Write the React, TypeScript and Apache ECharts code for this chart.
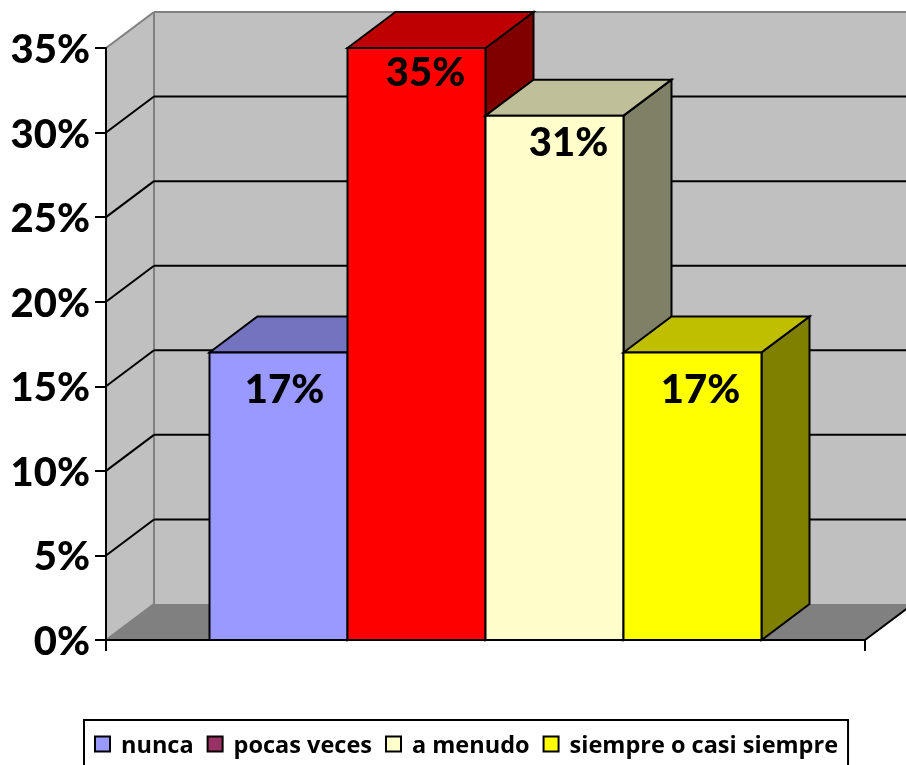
import React, { useEffect, useRef } from "react";
import * as echarts from "echarts";

const categories = ["nunca", "pocas veces", "a menudo", "siempre o casi siempre"];
const values = [17, 35, 31, 17];
const yTicks = [0, 5, 10, 15, 20, 25, 30, 35];
const legendColors = ["#9999FF", "#993366", "#FFFFCC", "#FFFF00"];
const frontColors = ["#9999FF", "#FF0000", "#FFFFCC", "#FFFF00"];
const topColors = ["#7373BF", "#BF0000", "#BFBF99", "#BFBF00"];
const sideColors = ["#4D4D80", "#800000", "#808066", "#808000"];
const labelDx = [6, 9, 14, 8];
const labelDy = [36, 23, 25, 36];

const DX = 48;
const DY = -36;
const BAR_FRACTION = 1 / 5.5;
const GAP_FRACTION = 0.75 / 5.5;
const COMIC = "'Lato','Noto Sans',sans-serif";

function face(points: number[][], fill: string, stroke: string | null = "#000", lineWidth = 2) {
  return {
    type: "polygon",
    shape: { points },
    style: { fill, stroke: stroke ?? "none", lineWidth: stroke ? lineWidth : 0, lineJoin: "miter" },
  };
}

function seg(x1: number, y1: number, x2: number, y2: number, stroke: string) {
  return { type: "line", shape: { x1, y1, x2, y2 }, style: { stroke, lineWidth: 2 } };
}

export default function App() {
  const ref = useRef<HTMLDivElement>(null);
  useEffect(() => {
    document.body.style.margin = "0";
    document.body.style.overflow = "hidden";
    const chart = echarts.init(ref.current!, null, { renderer: "svg" });

    const wallItem = (_p: any, api: any) => {
      const tick = api.value(1);
      const [x0, y] = api.coord([0, tick]);
      const w = api.size([1, 0])[0];
      const xl = x0 - w / 2;
      const xr = x0 + w / 2;
      const children: any[] = [];
      if (tick === yTicks[0]) {
        const [, yb] = api.coord([0, yTicks[0]]);
        const [, yt] = api.coord([0, yTicks[yTicks.length - 1]]);
        children.push(
          face([[xl + DX, yt + DY], [xr + DX, yt + DY], [xr + DX, yb + DY], [xl + DX, yb + DY]], "#C0C0C0", null),
          face([[xl, yt], [xl + DX, yt + DY], [xl + DX, yb + DY], [xl, yb]], "#C0C0C0", null),
          face([[xl, yb], [xl + DX, yb + DY], [xr + DX, yb + DY], [xr, yb]], "#808080", null),
          seg(xl, yt, xl + DX, yt + DY, "#808080"),
          seg(xl + DX, yt + DY, xr + DX, yt + DY, "#808080"),
          seg(xl + DX, yt + DY, xl + DX, yb + DY, "#808080"),
          seg(xl, yb, xl + DX, yb + DY, "#808080"),
          seg(xr, yb, xr + DX, yb + DY, "#000")
        );
      } else if (tick !== yTicks[yTicks.length - 1]) {
        children.push(seg(xl, y, xl + DX, y + DY, "#000"), seg(xl + DX, y + DY, xr + DX, y + DY, "#000"));
      }
      return { type: "group", children };
    };

    const barItem = (idx: number) => (_p: any, api: any) => {
      const v = api.value(1);
      const [cx, yTop] = api.coord([0, v]);
      const [, yBase] = api.coord([0, 0]);
      const band = api.size([1, 0])[0];
      const bw = band * BAR_FRACTION;
      const x1 = cx - band / 2 + band * GAP_FRACTION + idx * bw;
      const x2 = x1 + bw;
      return {
        type: "group",
        children: [
          face([[x2, yTop], [x2 + DX, yTop + DY], [x2 + DX, yBase + DY], [x2, yBase]], sideColors[idx]),
          face([[x1, yTop], [x1 + DX, yTop + DY], [x2 + DX, yTop + DY], [x2, yTop]], topColors[idx]),
          face([[x1, yTop], [x2, yTop], [x2, yBase], [x1, yBase]], frontColors[idx]),
          {
            type: "text",
            x: (x1 + x2) / 2 + labelDx[idx],
            y: yTop + labelDy[idx],
            style: {
              text: `${v}%`,
              fill: "#000",
              font: `900 40px ${COMIC}`,
              align: "center",
              verticalAlign: "middle",
            },
          },
        ],
      };
    };

    chart.setOption({
      animation: false,
      grid: { left: 106, right: 41, top: 48, bottom: 125 },
      xAxis: {
        type: "category",
        data: [""],
        z: 10,
        axisLine: { lineStyle: { color: "#000", width: 2 } },
        axisTick: { show: true, length: 11, lineStyle: { color: "#000", width: 2 } },
        axisLabel: { show: false },
        splitLine: { show: false },
      },
      yAxis: {
        type: "value",
        min: 0,
        max: 35,
        interval: 5,
        z: 10,
        axisLine: { show: true, lineStyle: { color: "#000", width: 2 } },
        axisTick: { show: true, length: 11, lineStyle: { color: "#000", width: 2 } },
        axisLabel: {
          formatter: "{value}%",
          color: "#000",
          fontFamily: COMIC,
          fontWeight: 900,
          fontSize: 40,
          margin: 16,
          padding: [0, 0, 5, 0],
        },
        splitLine: { show: false },
      },
      legend: {
        left: 84,
        top: 720,
        orient: "horizontal",
        data: categories,
        icon: "rect",
        itemWidth: 15,
        itemHeight: 15,
        itemGap: 13,
        padding: [12, 10, 12, 10],
        borderColor: "#000",
        borderWidth: 2,
        backgroundColor: "#fff",
        selectedMode: false,
        textStyle: {
          color: "#000",
          fontFamily: "'Open Sans','Noto Sans',sans-serif",
          fontWeight: 700,
          fontSize: 23.5,
          padding: [0, 0, 0, 6],
        },
      },
      series: [
        {
          type: "custom",
          name: "walls",
          z: 1,
          silent: true,
          clip: false,
          renderItem: wallItem,
          data: yTicks.map((t) => [0, t]),
        },
        ...categories.map((name, i) => ({
          type: "custom",
          name,
          z: 20 + i,
          clip: false,
          itemStyle: { color: legendColors[i], borderColor: "#000", borderWidth: 2 },
          renderItem: barItem(i),
          data: [[0, values[i]]],
        })),
      ],
    });
    return () => chart.dispose();
  }, []);
  return <div ref={ref} style={{ position: "fixed", left: 0, top: 0, width: 906, height: 765 }} />;
}
